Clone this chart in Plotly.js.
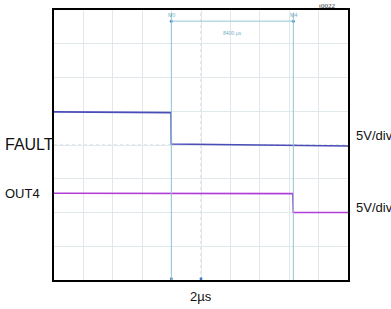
<!DOCTYPE html>
<html><head><meta charset="utf-8">
<script src="https://cdn.plot.ly/plotly-3.0.1.min.js"></script>
<style>html,body{margin:0;padding:0;background:#fff}#c{width:391px;height:309px}</style>
</head><body><div id="c"></div>
<script>
// time in divisions (2 µs/div), level in divisions (5 V/div)
const faultT = [0, 3.98, 3.99, 7.0, 10];
const faultV = [4.98, 4.96, 4.03, 4.01, 3.97];
const out4T = [0, 4.0, 8.12, 8.14, 10];
const out4V = [2.57, 2.56, 2.56, 2.0, 2.0];
const cursorT = [3.99, 8.14];
const cursorLabels = ["M0", "M4"];
const deltaLabel = "8400 µs";
const channelLabels = ["FAULT", "OUT4"];
const scaleLabels = ["5V/div", "5V/div"];
const timeLabel = "2µs";
const cornerLabel = "t0022";

const cur = '#93c6d2';
const shapes = [
  {type:'line', xref:'x', yref:'paper', x0:5, x1:5, y0:0, y1:1, line:{color:'#c8d4d8', width:1, dash:'dot'}, layer:'below'},
  {type:'line', xref:'paper', yref:'y', x0:0, x1:1, y0:4, y1:4, line:{color:'#c8d4d8', width:1, dash:'dot'}, layer:'below'},
];
cursorT.forEach(t => shapes.push({type:'line', xref:'x', yref:'paper', x0:t, x1:t, y0:0, y1:0.99, line:{color:cur, width:1}}));
shapes.push({type:'line', xref:'x', yref:'y', x0:cursorT[0], x1:cursorT[1], y0:7.67, y1:7.67, line:{color:cur, width:1}});

const F = {family:'Liberation Sans, Arial, sans-serif', size:14, color:'#111'};
// paper helpers: x in divisions / 10, y in divisions / 8
const px = d => d/10, py = d => d/8;
const annotations = [];
cursorT.forEach((t,i) => annotations.push({x:t, y:1, xref:'x', yref:'paper', text:cursorLabels[i], showarrow:false, yanchor:'top', font:{size:5, color:'#6aa8bc'}}));
annotations.push({x:(cursorT[0]+cursorT[1])/2, y:7.33, xref:'x', yref:'y', text:deltaLabel, showarrow:false, font:{size:5, color:'#6aa8bc'}});
annotations.push(
  {x:px(0.08), y:py(4.02), xref:'paper', yref:'paper', xanchor:'right', yanchor:'middle', text:channelLabels[0], showarrow:false, font:{...F, size:16}},
  {x:px(-0.4), y:py(2.56), xref:'paper', yref:'paper', xanchor:'right', yanchor:'middle', text:channelLabels[1], showarrow:false, font:{...F, size:13}},
  {x:px(10.2), y:py(4.28), xref:'paper', yref:'paper', xanchor:'left', yanchor:'middle', text:scaleLabels[0], showarrow:false, font:{...F, size:13}},
  {x:px(10.2), y:py(2.15), xref:'paper', yref:'paper', xanchor:'left', yanchor:'middle', text:scaleLabels[1], showarrow:false, font:{...F, size:13}},
  {x:px(5), y:py(-0.5), xref:'paper', yref:'paper', yanchor:'middle', text:timeLabel, showarrow:false, font:{...F, size:13}},
  {x:0.963, y:1.037, xref:'paper', yref:'paper', yanchor:'top', text:cornerLabel, showarrow:false, font:{family:'Liberation Serif, serif', size:7, color:'#333'}}
);

const traces = [
  {x:faultT, y:faultV, mode:'lines', line:{color:'#4a4cb8', width:1.6}, hoverinfo:'none'},
  {x:out4T, y:out4V, mode:'lines', line:{color:'#b03ed6', width:1.6}, hoverinfo:'none'},
  {x:[cursorT[0], 5, cursorT[0], cursorT[1]], y:[0.04,0.04,7.67,7.67], mode:'markers', marker:{size:3, color:'#3a78c8'}, hoverinfo:'none'}
];
const ax = {showgrid:true, gridcolor:'#e1e8ec', gridwidth:1, dtick:1, showticklabels:false, ticks:'', zeroline:false,
  showline:true, mirror:true, linecolor:'#000', linewidth:2, fixedrange:true};
const layout = {
  width:391, height:309, margin:{l:54, r:43, t:10, b:29},
  paper_bgcolor:'#fff', plot_bgcolor:'#fff', showlegend:false,
  xaxis:{...ax, range:[0,10]}, yaxis:{...ax, range:[0,8]},
  shapes, annotations
};
Plotly.newPlot('c', traces, layout, {displayModeBar:false, staticPlot:true});
</script></body></html>
